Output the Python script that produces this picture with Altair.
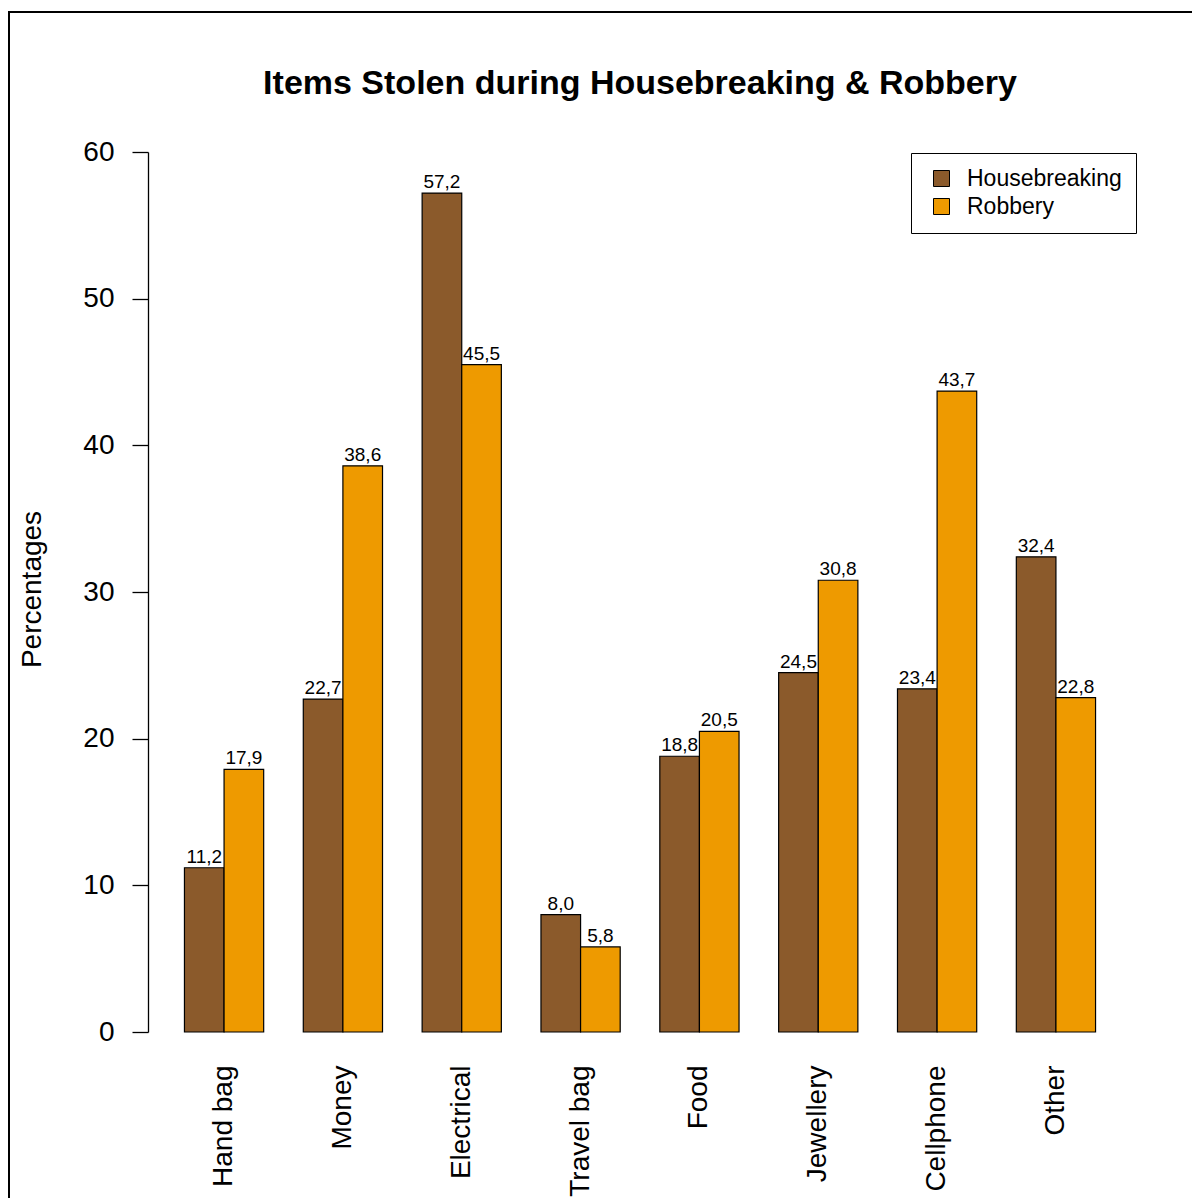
import altair as alt
import pandas as pd

# Share of incidents in which each item type was stolen
categories = ["Hand bag", "Money", "Electrical", "Travel bag", "Food",
              "Jewellery", "Cellphone", "Other"]
housebreaking = [11.2, 22.7, 57.2, 8.0, 18.8, 24.5, 23.4, 32.4]
robbery = [17.9, 38.6, 45.5, 5.8, 20.5, 30.8, 43.7, 22.8]
series = ["Housebreaking", "Robbery"]
series_colors = ["#8B5A2B", "#EE9A00"]
y_ticks = [0, 10, 20, 30, 40, 50, 60]

rows = []
for cat, h, r in zip(categories, housebreaking, robbery):
    for name, v in zip(series, (h, r)):
        rows.append({"item": cat, "crime": name, "pct": v,
                     "label": f"{v:.1f}".replace(".", ",")})
df = pd.DataFrame(rows)

W, H = 984, 880
FONT = "Liberation Sans"

x_enc = alt.X(
    "item:N", sort=categories, title=None,
    scale=alt.Scale(paddingInner=1 / 3, paddingOuter=0.3067),
    axis=alt.Axis(labelAngle=-90, labelAlign="right", labelBaseline="middle",
                  domain=False, ticks=False, labelPadding=33,
                  labelFontSize=28, labelColor="black", labelFont=FONT),
)
xo_enc = alt.XOffset("crime:N", sort=series,
                     scale=alt.Scale(paddingInner=0, paddingOuter=0))
y_enc = alt.Y(
    "pct:Q", title="Percentages",
    scale=alt.Scale(domain=[0, 60], nice=False, zero=True),
    axis=alt.Axis(values=y_ticks, grid=False, tickSize=16, tickColor="black",
                  tickWidth=1.3, domainColor="black", domainWidth=1.3,
                  labelPadding=18, labelFontSize=28, labelColor="black",
                  labelFont=FONT, titleFontSize=28, titleFontWeight="normal",
                  titleColor="black", titleFont=FONT, titleAngle=-90,
                  titleX=-116, titleY=437, titleBaseline="middle",
                  titleAlign="center"),
)

bars = alt.Chart(df).mark_bar(stroke="black", strokeWidth=1.2).encode(
    x=x_enc, xOffset=xo_enc, y=y_enc,
    color=alt.Color(
        "crime:N", sort=series, title=None,
        scale=alt.Scale(domain=series, range=series_colors),
        legend=alt.Legend(orient="none", legendX=763, legendY=1,
                          strokeColor="black", fillColor="white", padding=14,
                          symbolType="square", symbolSize=256,
                          symbolStrokeColor="black", symbolStrokeWidth=1,
                          symbolOffset=5, labelOffset=14, labelFontSize=23,
                          labelFont=FONT, labelColor="black", rowPadding=4),
    ),
)

labels = alt.Chart(df).mark_text(
    baseline="alphabetic", dy=-5, fontSize=19, font=FONT, color="black"
).encode(x=x_enc, xOffset=xo_enc, y=alt.Y("pct:Q"), text="label:N")

# outer figure frame
frame = alt.Chart(pd.DataFrame({"f": [0]})).mark_rect(
    fill="transparent", stroke="black", strokeWidth=2
).encode(x=alt.value(-139), y=alt.value(-140), x2=alt.value(1100),
         y2=alt.value(1100))

chart = alt.layer(frame, bars, labels).properties(
    width=W, height=H,
    background="white",
    title=alt.TitleParams(
        "Items Stolen during Housebreaking & Robbery", fontSize=34,
        fontWeight="bold", font=FONT, color="black", frame="group",
        anchor="middle", offset=-117, baseline="alphabetic"),
    autosize=alt.AutoSizeParams(type="none"),
    padding={"left": 148, "top": 152, "right": 60, "bottom": 166},
).configure_view(strokeWidth=0)

chart.save("out.html", embed_options={"renderer": "svg", "actions": False})
